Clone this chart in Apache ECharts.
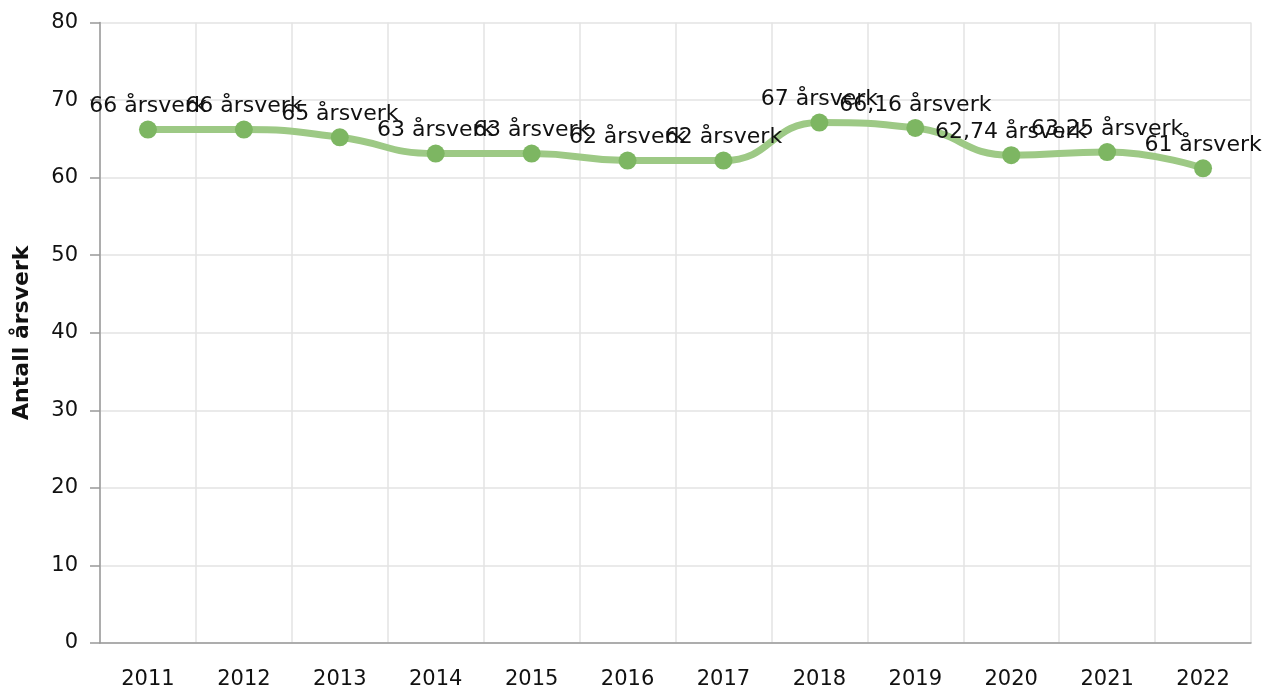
<!DOCTYPE html>
<html>
<head>
<meta charset="utf-8">
<script src="https://cdn.jsdelivr.net/npm/echarts@6/dist/echarts.min.js"></script>
<style>
  html, body { margin: 0; padding: 0; background: #fff; }
  #chart { width: 1263px; height: 690px; }
</style>
</head>
<body>
<div id="chart"></div>
<script>
var years = ['2011', '2012', '2013', '2014', '2015', '2016', '2017', '2018', '2019', '2020', '2021', '2022'];
var arsverk = [66.2, 66.2, 65.2, 63.1, 63.1, 62.2, 62.2, 67.1, 66.4, 62.9, 63.3, 61.2];
var pointLabels = ['66 årsverk', '66 årsverk', '65 årsverk', '63 årsverk', '63 årsverk', '62 årsverk',
  '62 årsverk', '67 årsverk', '66,16 årsverk', '62,74 årsverk', '63,25 årsverk', '61 årsverk'];

var chart = echarts.init(document.getElementById('chart'));
var font = 'DejaVu Sans, Verdana, sans-serif';

chart.setOption({
  animation: false,
  backgroundColor: '#fff',
  textStyle: { fontFamily: font },
  grid: { left: 100, right: 12, top: 22.5, bottom: 44 },
  xAxis: {
    type: 'category',
    data: years,
    boundaryGap: true,
    axisLine: { lineStyle: { color: '#999', width: 1.5 } },
    axisTick: { alignWithLabel: true, length: 8, lineStyle: { color: '#999', width: 1.5 } },
    axisLabel: { color: '#111', fontSize: 21, margin: 26, fontFamily: font },
    splitLine: { show: true, lineStyle: { color: '#e3e3e3', width: 1.5 } }
  },
  yAxis: {
    type: 'value',
    min: 0,
    max: 80,
    interval: 10,
    name: 'Antall årsverk',
    nameLocation: 'middle',
    nameGap: 67,
    nameTextStyle: { color: '#111', fontSize: 22, fontWeight: 'bold', fontFamily: font },
    axisLine: { show: true, lineStyle: { color: '#999', width: 1.5 } },
    axisTick: { show: true, length: 10, lineStyle: { color: '#999', width: 1.5 } },
    axisLabel: { color: '#111', fontSize: 21, margin: 22, fontFamily: font },
    splitLine: { show: true, lineStyle: { color: '#e3e3e3', width: 1.5 } }
  },
  series: [{
    type: 'line',
    data: arsverk,
    smooth: true,
    symbol: 'circle',
    symbolSize: 18,
    lineStyle: { color: '#9dc985', width: 7 },
    itemStyle: { color: '#7db662' },
    label: {
      show: true,
      position: 'top',
      distance: 3,
      color: '#111',
      fontSize: 22,
      fontFamily: font,
      formatter: function (p) { return pointLabels[p.dataIndex]; }
    },
    labelLayout: { hideOverlap: false }
  }]
});
</script>
</body>
</html>
